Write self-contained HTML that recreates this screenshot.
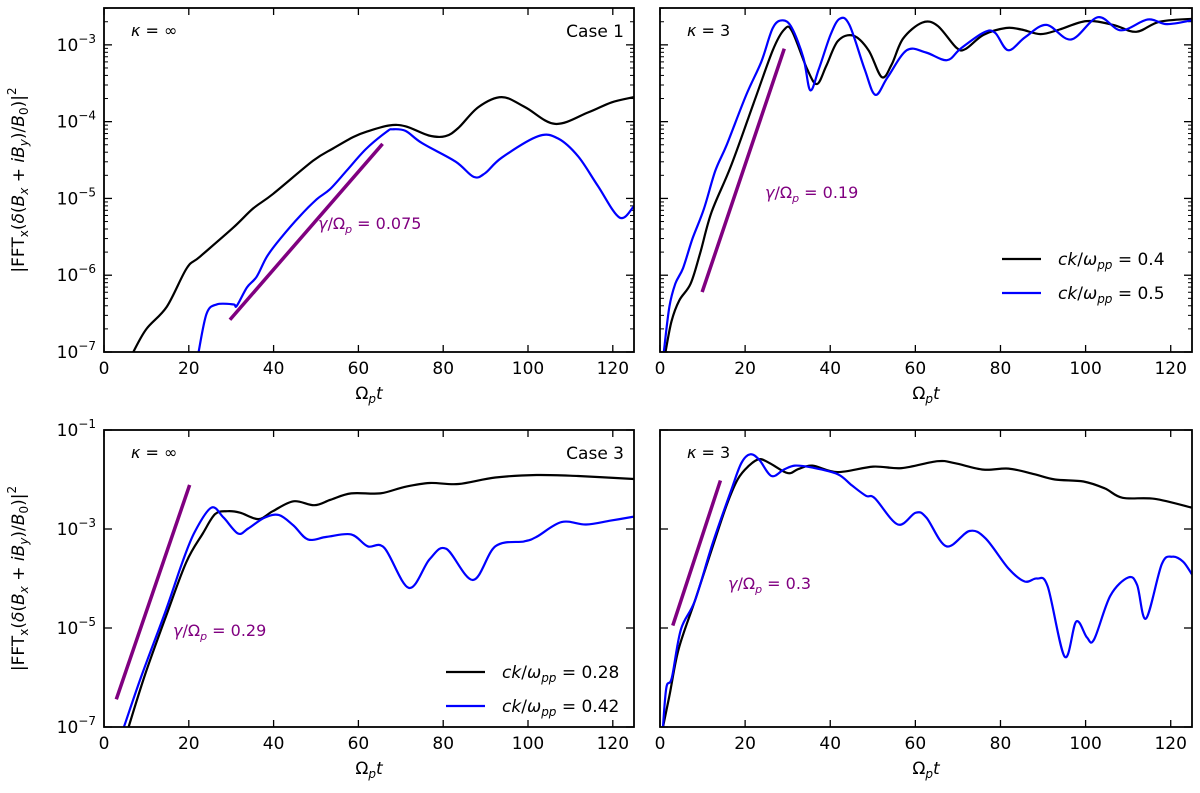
<!DOCTYPE html>
<html><head><meta charset="utf-8">
<style>
html,body{margin:0;padding:0;background:#fff;}
svg{display:block;font-family:"DejaVu Sans","Liberation Sans",sans-serif;}
</style></head>
<body>
<svg id="fig" width="1200" height="793" viewBox="0 0 1200 793" xmlns="http://www.w3.org/2000/svg"></svg>
<script>
// ---- data (t, log10 value) ----
const p1BlackT=[6.9,10,14.8,19.5,22.6,30.5,35.2,39.9,49.3,54,58.8,62,67.2,71.1,76.6,80.5,83.6,88.3,93.8,99.3,106.4,114.2,119.7,125];
const p1BlackV=[-7,-6.7,-6.41,-5.91,-5.76,-5.38,-5.13,-4.94,-4.51,-4.35,-4.2,-4.13,-4.05,-4.06,-4.18,-4.19,-4.08,-3.81,-3.68,-3.81,-4.03,-3.88,-3.75,-3.68];
const p1BlueT=[22.3,24.2,26.6,30.5,31.3,33.7,36,38.4,41.5,46.2,50.2,53.3,57.2,61.9,66.7,68,71.1,75,82.9,87.2,89.9,93.8,102.4,107.1,111.8,116.5,121.6,125];
const p1BlueV=[-7,-6.5,-6.38,-6.38,-6.4,-6.16,-6.02,-5.76,-5.53,-5.23,-5.01,-4.88,-4.64,-4.35,-4.13,-4.1,-4.12,-4.28,-4.52,-4.72,-4.67,-4.47,-4.19,-4.22,-4.45,-4.84,-5.25,-5.1];
const p2BlackT=[1.3,2.7,4.5,7.2,9.4,12.1,16.6,22,26.5,29.2,31,34.6,36.9,39.1,41.8,45.4,49,52.1,54.4,57.1,61.6,65.2,69.7,71.9,76,81.3,84.9,89.4,93.9,100.2,106.5,111.9,117.3,125];
const p2BlackV=[-7,-6.6,-6.33,-6.11,-5.72,-5.18,-4.59,-3.76,-3.07,-2.8,-2.82,-3.32,-3.51,-3.27,-2.95,-2.88,-3.07,-3.42,-3.26,-2.92,-2.71,-2.75,-3.04,-3.05,-2.87,-2.78,-2.8,-2.86,-2.8,-2.69,-2.74,-2.83,-2.7,-2.66];
const p2BlueT=[0.9,2.2,3.6,5.4,7.6,10.3,13,15.7,20.2,23.8,26.5,28.8,31,33.7,35.3,37.3,40,42.2,44.5,48.1,50.6,53.5,58,62.5,67.4,70.6,76,78.7,81.8,85.8,90.8,96.6,102.9,108.3,114.6,119.1,125];
const p2BlueV=[-7,-6.41,-6.11,-5.91,-5.53,-5.14,-4.64,-4.3,-3.66,-3.22,-2.78,-2.68,-2.78,-3.17,-3.59,-3.32,-2.88,-2.66,-2.74,-3.32,-3.65,-3.42,-3.07,-3.1,-3.2,-3.05,-2.84,-2.84,-3.07,-2.9,-2.74,-2.93,-2.64,-2.81,-2.67,-2.73,-2.68];
const p3BlackT=[5.8,9.7,14.6,19.4,23.3,26.2,29.1,32.1,36.4,39.8,44.7,49.6,53.4,58.3,65.1,70.9,76.8,83.6,92.3,102,111.8,125];
const p3BlackV=[-7,-5.94,-4.77,-3.67,-3.09,-2.7,-2.64,-2.67,-2.8,-2.64,-2.44,-2.52,-2.41,-2.28,-2.28,-2.15,-2.07,-2.09,-1.96,-1.91,-1.93,-1.99];
const p3BlueT=[4.7,8.7,14.6,18.5,21.4,25.3,28.2,31.6,34,37.9,41.3,44.7,48.1,52.5,58.3,62.2,66.1,71.9,76.8,80.7,87,92.3,99.1,102,107.9,113.7,119.5,125];
const p3BlueV=[-7,-6,-4.64,-3.67,-3.06,-2.57,-2.77,-3.09,-2.99,-2.77,-2.72,-2.93,-3.21,-3.16,-3.11,-3.35,-3.38,-4.19,-3.61,-3.4,-4.03,-3.35,-3.25,-3.16,-2.86,-2.91,-2.83,-2.75];
const p4BlackT=[0.7,2.3,4.4,8.2,12.4,15.7,18.3,20.8,23.3,25.8,30,32.5,35.8,41.7,50.1,56.8,65.2,69.3,76,81.9,87.8,92.8,99.5,104.5,108.7,116.2,125];
const p4BlackV=[-7,-6.33,-5.42,-4.45,-3.35,-2.51,-1.99,-1.73,-1.59,-1.67,-1.87,-1.79,-1.72,-1.85,-1.74,-1.77,-1.63,-1.67,-1.8,-1.78,-1.89,-2,-2.04,-2.18,-2.37,-2.39,-2.57];
const p4BlueT=[0.7,1.5,2.8,4.9,8.2,12.4,16.6,19.1,21.2,23.3,26.2,29.1,31.7,35.8,41.7,45.1,48.4,50.5,55.9,60.1,62.6,67.3,72.7,76.5,81.9,85.7,88.6,91.1,95.1,97.8,100.3,102,105.8,110,112.1,114.2,117.9,120.4,122.9,125];
const p4BlueV=[-7,-6.2,-6,-5.03,-4.45,-3.28,-2.25,-1.67,-1.49,-1.6,-1.93,-1.8,-1.72,-1.76,-1.89,-2.12,-2.33,-2.38,-2.91,-2.67,-2.77,-3.35,-3.04,-3.19,-3.8,-4.06,-4,-4.16,-5.58,-4.87,-5.19,-5.23,-4.35,-3.98,-4.13,-4.81,-3.71,-3.56,-3.66,-3.92];
const fitT=[[29.7,65.7],[9.9,29.2],[2.9,20.2],[3,14.2]];
const fitV=[[-6.58,-4.29],[-6.22,-3.05],[-6.44,-2.11],[-4.95,-2.02]];
const growthLabels=["0.075","0.19","0.29","0.3"];
const xTicks=[0,20,40,60,80,100,120];

const NS="http://www.w3.org/2000/svg";
const svg=document.getElementById('fig');
function el(tag,attrs,parent){const e=document.createElementNS(NS,tag);for(const k in attrs)e.setAttribute(k,attrs[k]);(parent||svg).appendChild(e);return e;}

const panels=[
 {x0:104,x1:634,y0:8,y1:352,lmin:-7,lmax:-2.52,major:[-7,-6,-5,-4,-3],minor:true,ylab:true,kappa:"κ = ∞",caseT:"Case 1",bT:p1BlackT,bV:p1BlackV,uT:p1BlueT,uV:p1BlueV,lab:[318,229],leg:null},
 {x0:660,x1:1192,y0:8,y1:352,lmin:-7,lmax:-2.52,major:[-7,-6,-5,-4,-3],minor:true,ylab:false,kappa:"κ = 3",caseT:null,bT:p2BlackT,bV:p2BlackV,uT:p2BlueT,uV:p2BlueV,lab:[765,198],leg:{x:1002,y:[259,293],t:["0.4","0.5"]}},
 {x0:104,x1:634,y0:430,y1:727,lmin:-7,lmax:-1,major:[-7,-5,-3,-1],minor:false,ylab:true,kappa:"κ = ∞",caseT:"Case 3",bT:p3BlackT,bV:p3BlackV,uT:p3BlueT,uV:p3BlueV,lab:[173,636],leg:{x:446,y:[672,706],t:["0.28","0.42"]}},
 {x0:660,x1:1192,y0:430,y1:727,lmin:-7,lmax:-1,major:[-7,-5,-3,-1],minor:false,ylab:false,kappa:"κ = 3",caseT:null,bT:p4BlackT,bV:p4BlackV,uT:p4BlueT,uV:p4BlueV,lab:[728,589],leg:null}
];

function catmull(pts){
  let d="M"+pts[0][0].toFixed(1)+","+pts[0][1].toFixed(1);
  for(let i=0;i<pts.length-1;i++){
    const p0=pts[i-1]||pts[i],p1=pts[i],p2=pts[i+1],p3=pts[i+2]||p2;
    const c1=[p1[0]+(p2[0]-p0[0])/6,p1[1]+(p2[1]-p0[1])/6];
    const c2=[p2[0]-(p3[0]-p1[0])/6,p2[1]-(p3[1]-p1[1])/6];
    d+="C"+c1[0].toFixed(1)+","+c1[1].toFixed(1)+" "+c2[0].toFixed(1)+","+c2[1].toFixed(1)+" "+p2[0].toFixed(1)+","+p2[1].toFixed(1);
  }
  return d;
}

panels.forEach((P,i)=>{
  const g=el('g',{});
  
  
  const sx=t=>P.x0+(t/125)*(P.x1-P.x0);
  const sy=l=>P.y1-(l-P.lmin)/(P.lmax-P.lmin)*(P.y1-P.y0);
  const cid='clip'+i;
  const cp=el('clipPath',{id:cid},g);el('rect',{x:P.x0,y:P.y0,width:P.x1-P.x0,height:P.y1-P.y0},cp);
  xTicks.forEach(t=>{
    const x=sx(t);
    el('line',{x1:x,x2:x,y1:P.y1,y2:P.y1-7,stroke:'#000','stroke-width':1.3},g);
    el('line',{x1:x,x2:x,y1:P.y0,y2:P.y0+7,stroke:'#000','stroke-width':1.3},g);
    const tx=el('text',{x:x,y:P.y1+22,'text-anchor':'middle','font-size':17},g);tx.textContent=t;
    
    
  });
  for(let d=Math.floor(P.lmin);d<=Math.ceil(P.lmax);d++){
    if(P.minor){for(let m=2;m<=9;m++){const l=d+Math.log10(m);if(l<P.lmin||l>P.lmax)continue;const y=sy(l);
      el('line',{x1:P.x0,x2:P.x0+4,y1:y,y2:y,stroke:'#000','stroke-width':1},g);
      el('line',{x1:P.x1,x2:P.x1-4,y1:y,y2:y,stroke:'#000','stroke-width':1},g);}}
  }
  P.major.forEach(l=>{const y=sy(l);
    el('line',{x1:P.x0,x2:P.x0+8,y1:y,y2:y,stroke:'#000','stroke-width':1.3},g);
    el('line',{x1:P.x1,x2:P.x1-8,y1:y,y2:y,stroke:'#000','stroke-width':1.3},g);
    if(P.ylab){const tx=el('text',{x:P.x0-8,y:y+6,'text-anchor':'end','font-size':17},g);
      tx.innerHTML='10<tspan dy="-8" font-size="12">−'+(-l)+'</tspan>';
      
      }
  });
  const mk=(T,V,c,name)=>{const pts=T.map((t,k)=>[sx(t),sy(V[k])]);
    const p=el('path',{d:catmull(pts),fill:'none',stroke:c,'stroke-width':2.2,'clip-path':'url(#'+cid+')','stroke-linejoin':'round'},g);
    
    };
  mk(P.bT,P.bV,'#000','series-black');
  mk(P.uT,P.uV,'#0000ff','series-blue');
  const f=el('line',{x1:sx(fitT[i][0]),y1:sy(fitV[i][0]),x2:sx(fitT[i][1]),y2:sy(fitV[i][1]),stroke:'#800080','stroke-width':3.5},g);
  
  
  const gl=el('text',{x:P.lab[0],y:P.lab[1],'font-size':16,fill:'#800080'},g);
  gl.innerHTML='<tspan font-style="italic">γ</tspan>/Ω<tspan dy="4" font-size="11" font-style="italic">p</tspan><tspan dy="-4"> = '+growthLabels[i]+'</tspan>';
  
  
  el('rect',{x:P.x0,y:P.y0,width:P.x1-P.x0,height:P.y1-P.y0,fill:'none',stroke:'#000','stroke-width':1.8},g);
  const kp=el('text',{x:P.x0+27,y:P.y0+28,'font-size':16},g);kp.innerHTML='<tspan font-style="italic">κ</tspan> = '+P.kappa.split('= ')[1];
  
  
  if(P.caseT){const ct=el('text',{x:P.x1-10,y:P.y0+29,'text-anchor':'end','font-size':17},g);ct.textContent=P.caseT;
    
    }
  const xl=el('text',{x:(P.x0+P.x1)/2,y:P.y1+47,'text-anchor':'middle','font-size':17},g);
  xl.innerHTML='Ω<tspan dy="4" font-size="12" font-style="italic">p</tspan><tspan dy="-4" font-style="italic">t</tspan>';
  
  
  if(P.ylab){const cy=(P.y0+P.y1)/2;const yl=el('text',{x:0,y:0,'text-anchor':'middle','font-size':17,transform:'translate(24,'+cy+') rotate(-90)'},g);
    yl.innerHTML='|FFT<tspan dy="4" font-size="12">x</tspan><tspan dy="-4">(</tspan><tspan font-style="italic">δ</tspan>(<tspan font-style="italic">B</tspan><tspan dy="4" font-size="12" font-style="italic">x</tspan><tspan dy="-4"> + </tspan><tspan font-style="italic">iB</tspan><tspan dy="4" font-size="12" font-style="italic">y</tspan><tspan dy="-4">)/</tspan><tspan font-style="italic">B</tspan><tspan dy="4" font-size="12">0</tspan><tspan dy="-4">)|</tspan><tspan dy="-8" font-size="12">2</tspan>';
    
    }
  if(P.leg){[0,1].forEach(k=>{const y=P.leg.y[k];
    const ln=el('line',{x1:P.leg.x,x2:P.leg.x+39,y1:y,y2:y,stroke:k?'#0000ff':'#000','stroke-width':2.2},g);
    
    
    const lt=el('text',{x:P.leg.x+56,y:y+6,'font-size':17},g);
    lt.innerHTML='<tspan font-style="italic">ck</tspan>/<tspan font-style="italic">ω</tspan><tspan dy="4" font-size="12" font-style="italic">pp</tspan><tspan dy="-4"> = '+P.leg.t[k]+'</tspan>';
    
    });}
});
</script>
</body></html>
